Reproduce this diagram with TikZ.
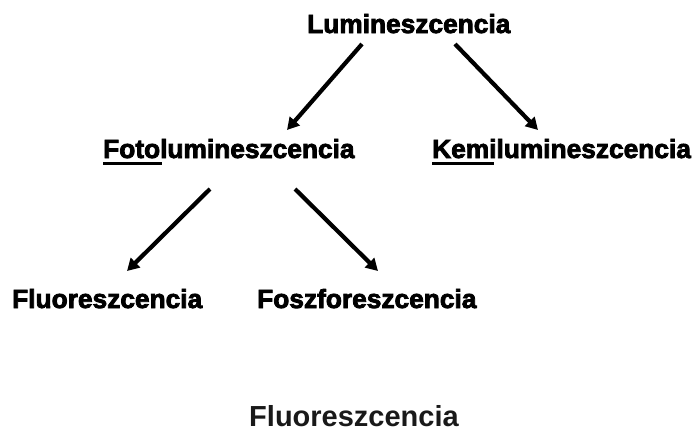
\documentclass[tikz,border=0pt]{standalone}
\usepackage{fontspec}
\setmainfont{Liberation Sans}
\newfontfamily\heavyfont[FakeBold=3]{Liberation Sans Bold}
\usetikzlibrary{arrows.meta,calc}
\definecolor{titlegray}{RGB}{25,25,25}
\tikzset{
  lbl/.style={inner sep=0pt, anchor=base west, font=\heavyfont\fontsize{26.3}{30}\selectfont},
  arr/.style={line width=4.2pt, -{Triangle[length=12pt,width=13pt]}},
  uline/.style={line width=2.4pt},
  title/.style={inner sep=0pt, anchor=base, text=titlegray, font=\bfseries\fontsize{29}{32}\selectfont}
}
\begin{document}
\begin{tikzpicture}[x=1pt,y=-1pt]
\useasboundingbox[fill=white] (0,0) rectangle (699,431);
\node[lbl] (lum) at (307,33) {Lumineszcencia};
\node[lbl] (foto) at (103,158) {Fotolumineszcencia};
\node[lbl] (kemi) at (432,158) {Kemilumineszcencia};
\node[lbl] (fluo) at (12,308) {Fluoreszcencia};
\node[lbl] (fosz) at (257,308) {Foszforeszcencia};
\node[title] (ttl) at (354,426) {Fluoreszcencia};
% underlines
\coordinate (fotoUa) at (103,163.5);
\coordinate (fotoUb) at (162,163.5);
\coordinate (kemiUa) at (432,163.5);
\coordinate (kemiUb) at (494,163.5);
\draw[uline] (fotoUa) -- (fotoUb);
\draw[uline] (kemiUa) -- (kemiUb);
% arrow endpoints
\coordinate (lumL) at (362,44);
\coordinate (lumR) at (455,44);
\coordinate (fotoT) at (287,130);
\coordinate (kemiT) at (538,130);
\coordinate (fotoL) at (210,189);
\coordinate (fotoR) at (295,189);
\coordinate (fluoT) at (127,271);
\coordinate (foszT) at (378,271);
\draw[arr] (lumL) -- (fotoT);
\draw[arr] (lumR) -- (kemiT);
\draw[arr] (fotoL) -- (fluoT);
\draw[arr] (fotoR) -- (foszT);
\end{tikzpicture}
\end{document}
